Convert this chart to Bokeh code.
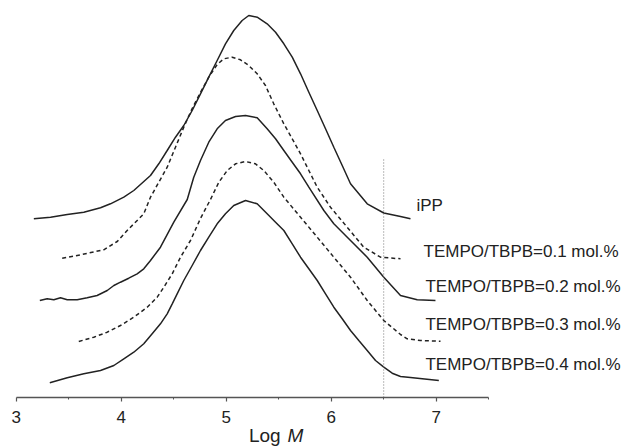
from bokeh.plotting import figure
from bokeh.models import Range1d, FixedTicker, LinearAxis
from bokeh.embed import file_html
from bokeh.resources import INLINE
from bokeh.core.properties import value

# ---------------- data (log M, vertically offset intensity) ----------------
logM_ipp = [3.168, 3.327, 3.486, 3.644, 3.803, 3.898, 4.025, 4.120, 4.279, 4.358, 4.438, 4.517,
            4.596, 4.676, 4.755, 4.834, 4.914, 4.993, 5.072, 5.152, 5.215, 5.295, 5.390, 5.470,
            5.549, 5.629, 5.708, 5.787, 5.867, 5.946, 6.025, 6.105, 6.184, 6.343, 6.501, 6.660,
            6.755]
h_ipp = [178.7, 180.3, 183, 185.3, 189.7, 193.7, 200.3, 207, 222, 233.7, 247, 260.3,
         272, 287, 303.7, 320.3, 337, 353.7, 367, 377, 382, 380.3, 373.7, 365.3,
         353.7, 340.3, 323.7, 305.3, 287, 268.7, 250.3, 232, 213.7, 193.7, 184.5, 181,
         178.7]

logM_01 = [3.438, 3.612, 3.834, 3.962, 4.057, 4.215, 4.279, 4.358, 4.438, 4.517, 4.596, 4.676,
           4.755, 4.834, 4.914, 4.977, 5.057, 5.136, 5.215, 5.295, 5.374, 5.453, 5.549, 5.629,
           5.708, 5.787, 5.867, 5.993, 6.152, 6.310, 6.470, 6.660]
h_01 = [139.3, 142.7, 147.7, 156, 167, 183.7, 200.3, 215.3, 230.3, 250.3, 270.3, 289,
        305, 320.3, 333, 338.7, 340.3, 337.7, 332, 323.7, 312, 293.7, 273.7, 258.7,
        243.7, 227, 210.3, 190.3, 170.3, 150.3, 140.3, 138.7]

logM_02 = [3.225, 3.295, 3.358, 3.422, 3.486, 3.581, 3.676, 3.771, 3.867, 3.930, 3.993, 4.072,
           4.152, 4.215, 4.279, 4.374, 4.501, 4.629, 4.691, 4.755, 4.834, 4.914, 4.993, 5.089,
           5.184, 5.295, 5.390, 5.470, 5.549, 5.629, 5.708, 5.787, 5.930, 6.025, 6.184, 6.343,
           6.501, 6.660, 6.819, 6.993]
h_02 = [97, 98.7, 97.7, 99.7, 97.7, 97.7, 99.7, 102, 107, 112, 115.3, 119.3,
        123.7, 128.7, 137, 150.3, 175.3, 198, 220.3, 237, 255.3, 268.7, 277, 281,
        282, 279.7, 268.7, 258.7, 247, 235.3, 223.7, 210.3, 187, 173.7, 157, 140.3,
        120.3, 102, 97.7, 97]

logM_03 = [3.596, 3.739, 3.867, 3.993, 4.120, 4.248, 4.343, 4.406, 4.486, 4.565, 4.660, 4.755,
           4.850, 4.930, 5.010, 5.089, 5.184, 5.279, 5.358, 5.453, 5.549, 5.708, 5.867, 6.025,
           6.184, 6.343, 6.501, 6.660, 6.724, 6.850, 7.041]
h_03 = [56, 60.3, 65.3, 72, 80.3, 90.3, 100.3, 110.3, 123.7, 140.3, 157, 179,
        198, 215.3, 227, 233.7, 236, 233.7, 227, 215.3, 200.3, 180.3, 160.3, 140.3,
        120.3, 97, 77, 63, 58.7, 57, 56.3]

logM_04 = [3.320, 3.486, 3.644, 3.803, 3.930, 4.025, 4.120, 4.215, 4.295, 4.374, 4.438, 4.486,
           4.533, 4.596, 4.676, 4.755, 4.834, 4.914, 4.993, 5.072, 5.184, 5.295, 5.390, 5.470,
           5.549, 5.629, 5.708, 5.787, 5.867, 5.946, 6.025, 6.105, 6.184, 6.263, 6.343, 6.422,
           6.501, 6.581, 6.660, 6.755, 7.025]
h_04 = [14.7, 19.7, 23.7, 27, 32, 38.7, 45.3, 53.7, 63.7, 73.7, 83.7, 93.7,
        103.7, 117, 132, 147, 160.3, 173.7, 183.7, 192, 197, 193.7, 183.7, 175.3,
        167, 153.7, 140.3, 128.7, 117, 103.7, 90.3, 78.7, 67, 57, 47, 37,
        30.3, 24.3, 21, 20, 17]

series_names = ["iPP", "TEMPO/TBPB=0.1 mol.%", "TEMPO/TBPB=0.2 mol.%",
                "TEMPO/TBPB=0.3 mol.%", "TEMPO/TBPB=0.4 mol.%"]
x_ticks = [3, 4, 5, 6, 7]
x_minor = [3.5, 4.5, 5.5, 6.5, 7.5]
x_bounds = (3, 7.5)
marker_logM = 6.5
marker_top = 240

# ---------------- layout ----------------
W, H = 622, 448
PX_PER_UNIT = 105.0
X0_PX = 15.7          # pixel position of log M = 3
AXIS_PX = 397         # pixel row of the x axis line
x_start = 3 - X0_PX / PX_PER_UNIT
x_end = 3 + (W - X0_PX) / PX_PER_UNIT

p = figure(width=W, height=H, x_range=Range1d(x_start, x_end),
           y_range=Range1d(AXIS_PX - H, AXIS_PX),
           output_backend="svg", toolbar_location=None,
           x_axis_location=None, y_axis_location=None, min_border=0)
p.outline_line_color = None
p.grid.visible = False
p.background_fill_color = "white"
p.border_fill_color = "white"

ax = LinearAxis(fixed_location=0, bounds=x_bounds,
                ticker=FixedTicker(ticks=x_ticks, minor_ticks=x_minor))
ax.axis_line_color = "#555555"
ax.axis_line_width = 1.5
ax.major_tick_line_color = "#555555"
ax.major_tick_line_width = 1.2
ax.minor_tick_line_color = "#555555"
ax.major_tick_in = 0
ax.major_tick_out = 4
ax.minor_tick_in = 0
ax.minor_tick_out = 2
ax.major_label_text_font = "Liberation Sans"
ax.major_label_text_font_size = "17px"
ax.major_label_text_color = "#222222"
ax.major_label_standoff = 9
p.add_layout(ax, "below")

col = "#222222"
p.line(logM_ipp, h_ipp, line_color=col, line_width=1.5)
p.line(logM_01, h_01, line_color=col, line_width=1.5, line_dash="4 3")
p.line(logM_02, h_02, line_color=col, line_width=1.5)
p.line(logM_03, h_03, line_color=col, line_width=1.5, line_dash="4 3")
p.line(logM_04, h_04, line_color=col, line_width=1.5)

p.segment(x0=[marker_logM], y0=[0], x1=[marker_logM], y1=[marker_top],
          line_color="#777777", line_width=1, line_dash="1 2")

label_x = [6.812, 6.879, 6.898, 6.898, 6.898]
label_y = [192, 146, 111, 73, 33]
p.text(x=label_x, y=label_y, text=series_names, text_font=value("Liberation Sans"),
       text_font_size="17px", text_baseline="middle", text_align="left",
       text_color=col)

# axis title "Log M" with italic M
title_y = -38
p.text(x=[5.216], y=[title_y], text=["Log"], text_font=value("Liberation Sans"),
       text_font_size="19px", text_baseline="middle", text_align="left",
       text_color=col)
p.text(x=[5.584], y=[title_y], text=["M"], text_font=value("Liberation Sans"),
       text_font_size="19px", text_font_style="italic", text_baseline="middle",
       text_align="left", text_color=col)

open("out.html", "w").write(file_html(p, INLINE))
